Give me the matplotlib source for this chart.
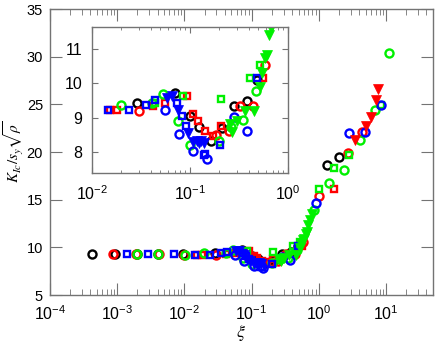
import matplotlib
matplotlib.use('Agg')
import matplotlib.pyplot as plt
from matplotlib.ticker import LogLocator, FixedLocator, NullFormatter

plt.rcParams['font.family'] = ['Liberation Sans', 'DejaVu Sans']
plt.rcParams['mathtext.fontset'] = 'stix'

# data (xi, K/sy sqrt(rho)), per colour and marker
bk_circ_x = [4.2e-4, 9.2e-4, 1.97e-3, 4.0e-3, 9.5e-3, 0.0288, 0.0708, 0.1, 0.124, 0.166, 0.215, 0.283, 0.385, 0.49, 1.33, 1.98]
bk_circ_y = [9.25, 9.25, 9.25, 9.25, 9.3, 9.44, 9.73, 9.04, 8.73, 8.32, 8.7, 9.35, 9.48, 10.1, 18.6, 19.5]

rd_circ_x = [8.7e-4, 1.9e-3, 4.2e-3, 9.8e-3, 0.030, 0.187, 0.25, 0.329, 0.443, 0.58, 1.02, 2.7, 4.4]
rd_circ_y = [9.25, 9.25, 9.25, 9.2, 9.2, 8.51, 8.61, 9.33, 9.33, 10.54, 15.4, 19.9, 22.1]
rd_sq_x = [0.0154, 0.018, 0.042, 0.056, 0.093, 0.107, 0.122, 0.142, 0.171, 0.21, 0.56, 1.67]
rd_sq_y = [9.22, 9.22, 9.33, 9.44, 9.63, 9.12, 8.9, 8.61, 8.46, 8.75, 10.15, 16.1]
rd_tri_x = [3.5, 5.0, 6.0, 7.07, 7.7]
rd_tri_y = [21.3, 22.7, 23.7, 25.5, 26.6]

bl_circ_x = [0.056, 0.078, 0.108, 0.148, 0.281, 0.379, 0.91, 2.85, 4.9, 8.4]
bl_circ_y = [9.23, 8.52, 8.04, 7.8, 9.02, 8.63, 14.7, 22.0, 22.1, 24.9]
bl_sq_x = [1.4e-3, 2.86e-3, 7.1e-3, 0.0145, 0.0237, 0.0356, 0.0436, 0.0736, 0.083, 0.092, 0.139, 0.143, 0.202, 0.49]
bl_sq_y = [9.3, 9.25, 9.3, 9.22, 9.22, 9.36, 9.52, 9.44, 9.05, 8.76, 7.93, 7.94, 8.22, 10.15]
bl_tri_x = [0.058, 0.065, 0.076, 0.096, 0.107, 0.117, 0.125, 0.131, 0.14]
bl_tri_y = [9.58, 9.63, 9.23, 8.57, 8.3, 8.33, 8.28, 8.33, 8.28]

gr_circ_x = [2.0e-3, 4.1e-3, 1.02e-2, 0.0199, 0.041, 0.053, 0.0755, 0.1, 0.199, 0.262, 0.351, 0.47, 0.84, 1.4, 2.4, 4.15, 6.9, 11.1]
gr_circ_y = [9.25, 9.25, 9.2, 9.36, 9.44, 9.68, 8.91, 8.22, 8.32, 8.73, 8.93, 9.77, 13.9, 16.7, 18.1, 21.3, 24.4, 30.4]
gr_sq_x = [0.044, 0.0855, 0.21, 0.416, 0.52, 1.0, 1.67, 2.8, 8.4]
gr_sq_y = [9.44, 9.64, 9.55, 10.15, 10.54, 16.1, 18.3, 19.7, 24.9]
gr_tri_x = [0.255, 0.27, 0.3, 0.364, 0.45, 0.52, 0.55, 0.58, 0.61, 0.64, 0.667, 0.7, 0.75, 0.8]
gr_tri_y = [8.83, 8.6, 8.9, 9.19, 9.19, 9.89, 10.3, 10.73, 10.83, 11.4, 11.6, 12.3, 12.9, 13.5]

GREEN = '#00f000'
series = [
    (bk_circ_x, bk_circ_y, 'k', 'o'),
    (rd_circ_x, rd_circ_y, 'r', 'o'),
    (rd_sq_x, rd_sq_y, 'r', 's'),
    (gr_circ_x, gr_circ_y, GREEN, 'o'),
    (gr_sq_x, gr_sq_y, GREEN, 's'),
    (bl_circ_x, bl_circ_y, 'b', 'o'),
    (bl_sq_x, bl_sq_y, 'b', 's'),
    (bl_tri_x, bl_tri_y, 'b', 'v'),
    (rd_tri_x, rd_tri_y, 'r', 'v'),
    (gr_tri_x, gr_tri_y, GREEN, 'v'),
]


def draw(ax, xmin=0.0):
    for x, y, c, m in series:
        pts = [(a, b) for a, b in zip(x, y) if a >= xmin]
        if not pts:
            continue
        px, py = zip(*pts)
        if m == 'o':
            ax.plot(px, py, ls='none', marker='o', ms=5.8, mfc='none', mec=c, mew=1.7)
        elif m == 's':
            ax.plot(px, py, ls='none', marker='s', ms=5, mfc='none', mec=c, mew=1.7)
        else:
            ax.plot(px, py, ls='none', marker='v', ms=7, mfc=c, mec=c, mew=0.5)


def style(ax, major, minor, size):
    for s in ax.spines.values():
        s.set_color('0.45')
        s.set_linewidth(1.0)
    ax.tick_params(which='both', direction='in', top=True, right=True, color='0.45', labelsize=size)
    ax.tick_params(which='major', length=major)
    ax.tick_params(which='minor', length=minor)


fig = plt.figure(figsize=(4.4, 3.44), dpi=100)
ax = fig.add_axes([0.1136, 0.1424, 0.8705, 0.8314])
draw(ax)
ax.set_xscale('log')
ax.set_xlim(1e-4, 50)
ax.set_ylim(5, 35)
ax.yaxis.set_major_locator(FixedLocator([5, 10, 15, 20, 25, 30, 35]))
ax.xaxis.set_minor_locator(LogLocator(base=10, subs=range(2, 10), numticks=20))
ax.xaxis.set_minor_formatter(NullFormatter())
style(ax, 8.5, 4.3, 11.5)
ax.tick_params(axis='x', pad=7)
ax.tick_params(axis='y', pad=5, labelsize=10.5)
ax.set_xlabel(r'$\xi$', fontsize=13)
ax.set_ylabel(r'$K_{Ic}/s_y\sqrt{\rho}$', fontsize=11)
ax.xaxis.set_label_coords(0.5, -0.098)
ax.yaxis.set_label_coords(-0.064, 0.5)

ins = fig.add_axes([0.209, 0.497, 0.445, 0.4245])
draw(ins, xmin=0.012)
ins.set_xscale('log')
ins.set_xlim(1e-2, 1)
ins.set_ylim(7.4, 11.63)
ins.yaxis.set_major_locator(FixedLocator([8, 9, 10, 11]))
ins.xaxis.set_minor_locator(LogLocator(base=10, subs=range(2, 10), numticks=20))
ins.xaxis.set_minor_formatter(NullFormatter())
style(ins, 4.5, 2.5, 11.5)
ins.tick_params(axis='x', pad=8)
ins.tick_params(axis='y', pad=7)

fig.savefig('out.png', dpi=100)
